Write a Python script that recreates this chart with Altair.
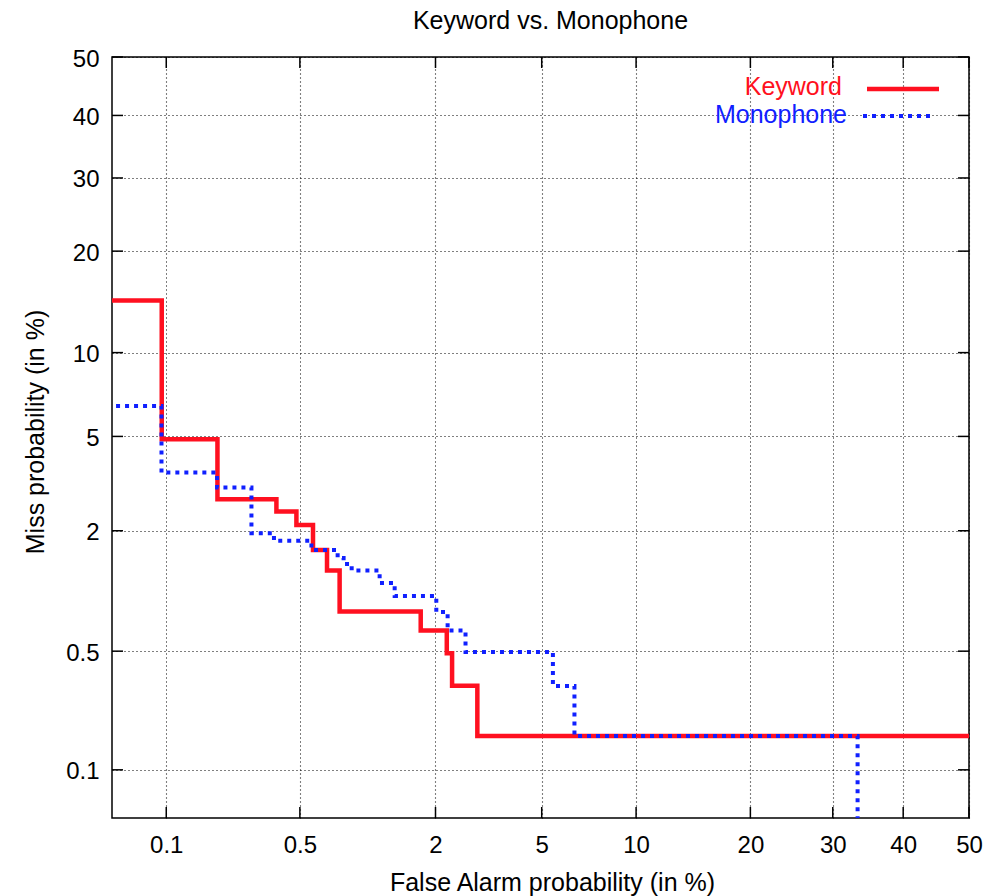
import altair as alt
import pandas as pd
from statistics import NormalDist

# ---------------- data (percent) ----------------
TICKS = [0.1, 0.5, 2, 5, 10, 20, 30, 40, 50]
P_MIN = 0.0485   # lower limit of both axes (in %)
P_MAX = 50.0     # upper limit of both axes (in %)

names = ["Keyword", "Monophone"]
colors = ["#ff1020", "#1020ff"]

kw_fa = [0.04, 0.0943, 0.1907, 0.3836, 0.481, 0.578, 0.673, 0.770, 1.74, 2.22, 2.33, 2.92, 50.0]
kw_miss = [14.55, 4.88, 2.76, 2.44, 2.125, 1.63, 1.30, 0.81, 0.646, 0.487, 0.321, 0.1624, 0.1624]

mono_fa = [0.04, 0.0940, 0.1898, 0.287, 0.373, 0.568, 0.754, 0.803, 0.874, 1.164, 1.352,
           2.015, 2.237, 2.63, 5.46, 6.44, 33.4]
mono_miss = [6.52, 3.58, 3.10, 1.95, 1.80, 1.63, 1.494, 1.399, 1.30, 1.13, 0.973,
             0.807, 0.646, 0.495, 0.32, 0.1624, 0.001]

# ---------------- helpers ----------------
nd = NormalDist()


def probit(pct):
    return nd.inv_cdf(pct / 100.0)


FONT = "Liberation Sans"
W, H = 857, 761

xs = alt.Scale(domain=[probit(P_MIN), probit(P_MAX)], nice=False, zero=False)
ys = alt.Scale(domain=[probit(P_MIN), probit(P_MAX)], nice=False, zero=False)
tick_pos = [probit(t) for t in TICKS]
label_expr = "format(cumulativeNormal(datum.value) * 100, '.2~r')"

common_axis = dict(
    values=tick_pos,
    labelExpr=label_expr,
    ticks=False,
    tickSize=0,
    domain=False,
    grid=True,
    gridDash=[1, 3],
    gridColor="#000000",
    gridWidth=1.1,
    labelFont=FONT,
    labelFontSize=24,
    labelColor="#000000",
    labelFlush=False,
    labelOverlap=False,
    titleFont=FONT,
    titleFontSize=25,
    titleFontWeight="normal",
    titleColor="#000000",
)

x_axis = alt.Axis(
    title="False Alarm probability (in %)",
    labelPadding=15,
    labelBaseline="top",
    titleX=440,
    titleY=72,
    titleBaseline="alphabetic",
    titleAlign="center",
    **common_axis,
)
y_axis = alt.Axis(
    title="Miss probability (in %)",
    labelPadding=13,
    labelBaseline="middle",
    labelOffset=2,
    titleX=-69,
    titleY=374.5,
    titleAngle=270,
    titleBaseline="alphabetic",
    titleAlign="center",
    **common_axis,
)

kw_df = pd.DataFrame({"fa": kw_fa, "miss": kw_miss, "i": range(len(kw_fa))})
mono_df = pd.DataFrame({"fa": mono_fa, "miss": mono_miss, "i": range(len(mono_fa))})
tick_df = pd.DataFrame({"p": TICKS})


def curve(df, color, width, dash=None):
    kwargs = dict(interpolate="step-after", color=color, strokeWidth=width, clip=True,
                  strokeCap="butt", strokeJoin="miter")
    if dash:
        kwargs["strokeDash"] = dash
    return (
        alt.Chart(df)
        .transform_calculate(px="quantileNormal(datum.fa / 100)",
                             py="quantileNormal(datum.miss / 100)")
        .mark_line(**kwargs)
        .encode(
            x=alt.X("px:Q", scale=xs, axis=x_axis),
            y=alt.Y("py:Q", scale=ys, axis=y_axis),
            order="i:Q",
        )
    )


kw_line = curve(kw_df, colors[0], 4.5)
mono_line = curve(mono_df, colors[1], 4, dash=[4, 5])

# inward tick marks on all four sides
TL = 11
tick_base = alt.Chart(tick_df).transform_calculate(px="quantileNormal(datum.p / 100)",
                                                   py="quantileNormal(datum.p / 100)")
tick_style = dict(color="#000000", strokeWidth=1.5)
ticks_bottom = tick_base.mark_rule(**tick_style).encode(
    x=alt.X("px:Q", scale=xs, axis=x_axis), y=alt.value(H), y2=alt.value(H - TL))
ticks_top = tick_base.mark_rule(**tick_style).encode(
    x=alt.X("px:Q", scale=xs, axis=x_axis), y=alt.value(0), y2=alt.value(TL))
ticks_left = tick_base.mark_rule(**tick_style).encode(
    y=alt.Y("py:Q", scale=ys, axis=y_axis), x=alt.value(0), x2=alt.value(TL))
ticks_right = tick_base.mark_rule(**tick_style).encode(
    y=alt.Y("py:Q", scale=ys, axis=y_axis), x=alt.value(W), x2=alt.value(W - TL))

# legend (inside, top right, gnuplot style: label then sample)
leg_kw_text = alt.Chart(pd.DataFrame({"s": [names[0]]})).mark_text(
    align="right", baseline="alphabetic", font=FONT, fontSize=25, color=colors[0]
).encode(text="s:N", x=alt.value(730), y=alt.value(38))
leg_mono_text = alt.Chart(pd.DataFrame({"s": [names[1]]})).mark_text(
    align="right", baseline="alphabetic", font=FONT, fontSize=25, color=colors[1]
).encode(text="s:N", x=alt.value(735), y=alt.value(66))
leg_kw_line = alt.Chart(pd.DataFrame({"s": [names[0]]})).mark_rule(
    color=colors[0], strokeWidth=4.5, strokeCap="butt"
).encode(x=alt.value(755), x2=alt.value(827), y=alt.value(32))
leg_mono_line = alt.Chart(pd.DataFrame({"s": [names[1]]})).mark_rule(
    color=colors[1], strokeWidth=4, strokeDash=[4, 5], strokeCap="butt"
).encode(x=alt.value(751), x2=alt.value(820), y=alt.value(59))

chart = (
    alt.layer(
        kw_line, mono_line,
        ticks_bottom, ticks_top, ticks_left, ticks_right,
        leg_kw_text, leg_kw_line, leg_mono_text, leg_mono_line,
    )
    .properties(
        width=W,
        height=H,
        title=alt.TitleParams(
            text="Keyword vs. Monophone",
            font=FONT,
            fontSize=25,
            fontWeight="normal",
            color="#000000",
            anchor="middle",
            baseline="alphabetic",
            dx=10,
            dy=36,
            offset=29,
        ),
        autosize=alt.AutoSizeParams(type="none"),
        padding={"left": 112, "top": 57, "right": 18, "bottom": 78},
        background="white",
    )
    .configure_view(stroke="#000000", strokeWidth=1.5)
)

chart.save("out.html", embed_options={"renderer": "svg", "actions": False})
